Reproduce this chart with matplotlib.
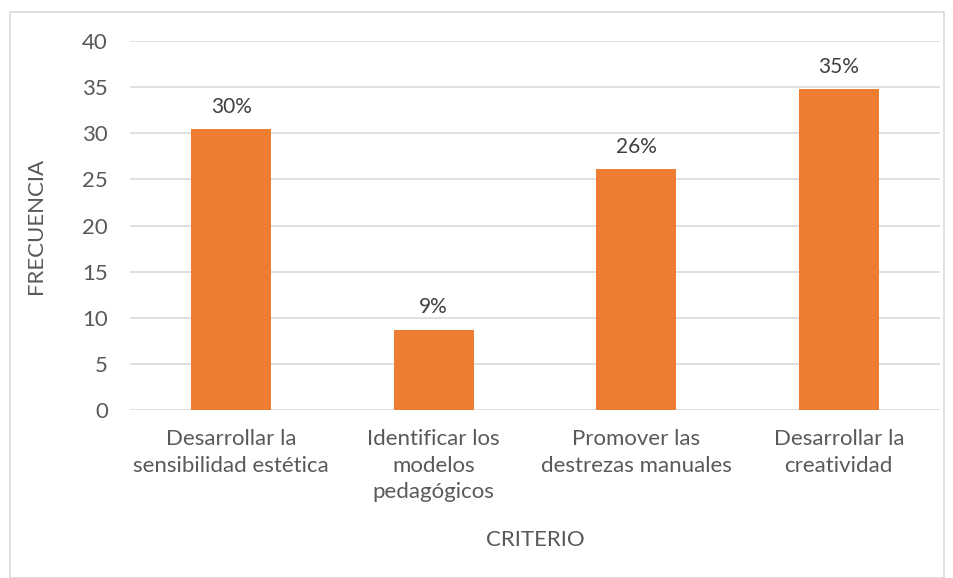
import matplotlib
matplotlib.use("Agg")
import matplotlib.pyplot as plt
from matplotlib.patches import Rectangle

categories = ["Desarrollar la\nsensibilidad estética",
              "Identificar los\nmodelos\npedagógicos",
              "Promover las\ndestrezas manuales",
              "Desarrollar la\ncreatividad"]
values = [30.43, 8.70, 26.09, 34.78]
labels = ["30%", "9%", "26%", "35%"]
yticks = [0, 5, 10, 15, 20, 25, 30, 35, 40]

plt.rcParams['font.family'] = ['Lato', 'DejaVu Sans']
txt = '#595959'

W, H = 954, 578
fig = plt.figure(figsize=(W/100, H/100), dpi=100)
fig.patch.set_facecolor('white')
fig.add_artist(Rectangle((10/W, 0), (944-10)/W, (H-12)/H, transform=fig.transFigure,
                         fill=False, edgecolor='#D9D9D9', linewidth=1.2))

ax = fig.add_axes([130/W, 1-410/H, (940-130)/W, (410-41)/H])
x = list(range(len(categories)))
ax.bar(x, values, width=0.395, color='#ED7D31', zorder=3)
for xi, v, l in zip(x, values, labels):
    ax.annotate(l, (xi, v), xytext=(0, 9), textcoords='offset points',
                ha='center', va='bottom', fontsize=15, color='#404040')
ax.set_xlim(-0.5, len(categories)-0.5)
ax.set_ylim(0, 40)
ax.set_yticks(yticks)
ax.set_xticks(x)
ax.set_xticklabels(categories, fontsize=16, color=txt, linespacing=1.4, va='top')
ax.tick_params(axis='y', labelsize=16, labelcolor=txt, length=0, pad=16)
ax.tick_params(axis='x', length=0, pad=14)
ax.yaxis.grid(True, color='#D9D9D9', linewidth=1.2, zorder=0)
for s in ax.spines.values():
    s.set_visible(False)
ax.set_axisbelow(True)
ax.set_ylabel('FRECUENCIA', fontsize=16, color=txt, labelpad=26)
ax.set_xlabel('CRITERIO', fontsize=16, color=txt, labelpad=20)
fig.savefig('out.png', dpi=100)
